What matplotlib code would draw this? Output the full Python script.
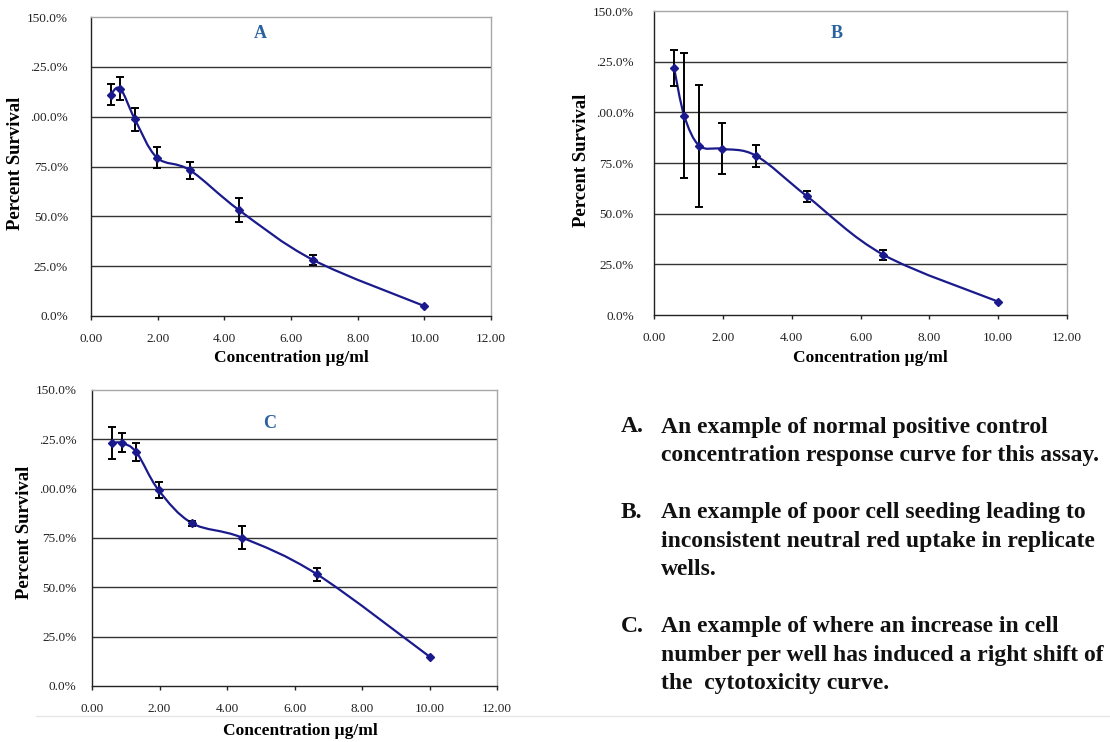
import numpy as np
import matplotlib
matplotlib.use("Agg")
import matplotlib.pyplot as plt
from matplotlib.path import Path
from matplotlib.patches import PathPatch

plt.rcParams['font.family'] = ['Liberation Serif', 'DejaVu Serif']

# ---- data ----
conc = [0.585, 0.878, 1.317, 1.975, 2.963, 4.444, 6.667, 10.0]

surv_a = [111.1, 114.1, 98.7, 79.5, 73.2, 53.1, 28.1, 5.0]
err_a = [5.3, 5.8, 5.8, 5.4, 4.3, 5.9, 2.6, 0.0]

surv_b = [121.8, 98.3, 83.5, 82.0, 78.6, 58.6, 29.7, 6.6]
err_b = [8.9, 30.9, 30.0, 12.5, 5.4, 2.7, 2.6, 0.0]

surv_c = [123.0, 123.2, 118.4, 99.2, 82.5, 75.2, 56.6, 14.9]
err_c = [8.0, 4.8, 4.6, 4.1, 1.2, 5.7, 3.4, 0.0]

y_ticks = [0, 25, 50, 75, 100, 125, 150]
y_labels = ["0.0%", "25.0%", "50.0%", "75.0%", ".00.0%", ".25.0%", "150.0%"]
x_ticks = [0, 2, 4, 6, 8, 10, 12]
x_labels = ["0.00", "2.00", "4.00", "6.00", "8.00", "10.00", "12.00"]

panel_letters = ["A", "B", "C"]
x_title = "Concentration \u00b5g/ml"
y_title = "Percent Survival"

notes = [
    ("A.", ["An example of normal positive control",
            "concentration response curve for this assay."]),
    ("B.", ["An example of poor cell seeding leading to",
            "inconsistent neutral red uptake in replicate",
            "wells."]),
    ("C.", ["An example of where an increase in cell",
            "number per well has induced a right shift of",
            "the  cytotoxicity curve."]),
]

W, H = 1110, 742
fig = plt.figure(figsize=(W / 100, H / 100), dpi=100)
fig.patch.set_facecolor("white")

LINE = "#1a1a8c"
LETTER = "#2a62a0"


def smooth_path(xs, ys):
    xs = np.asarray(xs, float)
    ys = np.asarray(ys, float)
    pts = np.column_stack([xs, ys])
    n = len(pts)
    verts = [pts[0]]
    codes = [Path.MOVETO]
    for i in range(n - 1):
        p0 = pts[i - 1] if i > 0 else pts[i]
        p1 = pts[i]
        p2 = pts[i + 1]
        p3 = pts[i + 2] if i + 2 < n else pts[i + 1]
        c1 = p1 + (p2 - p0) / 6.0
        c2 = p2 - (p3 - p1) / 6.0
        verts += [c1, c2, p2]
        codes += [Path.CURVE4] * 3
    return Path(verts, codes)


def px_axes(left, right, top, bottom):
    return [left / W, 1 - bottom / H, (right - left) / W, (bottom - top) / H]


def panel(rect, ys, errs, letter, letter_xy, ypad, ylab_xy, xlab_xy):
    ax = fig.add_axes(px_axes(*rect))
    ax.set_xlim(0, 12)
    ax.set_ylim(0, 150)
    ax.set_yticks(y_ticks)
    ax.set_yticklabels(y_labels)
    ax.set_xticks(x_ticks)
    ax.set_xticklabels(x_labels)
    ax.tick_params(axis="both", labelsize=9.5)
    ax.tick_params(axis="y", length=0, pad=ypad)
    ax.tick_params(axis="x", length=3, width=1, color="#222222", pad=9)
    for t in ax.get_yticklabels() + ax.get_xticklabels():
        t.set_color("#222222")
    for yv in y_ticks[1:-1]:
        ax.axhline(yv, color="#333333", lw=1.0, zorder=1)
    for s in ["left", "bottom"]:
        ax.spines[s].set_color("#222222")
        ax.spines[s].set_linewidth(1.0)
    for s in ["top", "right"]:
        ax.spines[s].set_color("#a8a8a8")
        ax.spines[s].set_linewidth(1.0)
    ax.add_patch(PathPatch(smooth_path(conc, ys), fill=False, ec=LINE,
                           lw=1.6, zorder=3))
    ax.errorbar(conc[:-1], ys[:-1], yerr=errs[:-1], fmt="none", ecolor="black",
                elinewidth=1.4, capsize=3, capthick=1.4, zorder=4)
    ax.plot(conc, ys, ls="none", marker="D", ms=4.5, color=LINE,
            mec=LINE, zorder=5)
    fig.text(letter_xy[0] / W, 1 - letter_xy[1] / H, letter, color=LETTER,
             fontsize=13, fontweight="bold", ha="center", va="center")
    fig.text(ylab_xy[0] / W, 1 - ylab_xy[1] / H, y_title, rotation=90,
             fontsize=13.5, fontweight="bold", ha="center", va="center")
    fig.text(xlab_xy[0] / W, 1 - xlab_xy[1] / H, x_title,
             fontsize=12.5, fontweight="bold", ha="center", va="center")
    return ax


panel((91, 491, 17, 316), surv_a, err_a, panel_letters[0], (260, 33), 16.5,
      (16, 163), (291, 358))
panel((654, 1067, 11, 315), surv_b, err_b, panel_letters[1], (837, 33), 14.5,
      (582, 160), (870, 358))
panel((92, 497, 390, 686), surv_c, err_c, panel_letters[2], (270, 423), 11,
      (25, 532), (300, 731))

# bottom faint rule
fig.add_artist(plt.Line2D([36 / W, 1.0], [1 - 716 / H, 1 - 716 / H],
                          color="#e6e6e6", lw=1.0))

# notes on the right
y = 427
for label, lines in notes:
    fig.text(621 / W, 1 - y / H, label, fontsize=17, fontweight="bold",
             ha="left", va="center", color="#111111")
    for ln in lines:
        fig.text(661 / W, 1 - y / H, ln, fontsize=17, fontweight="bold",
                 ha="left", va="center", color="#111111")
        y += 28.5
    y += 28.5

fig.savefig("out.png", dpi=100, facecolor="white")
